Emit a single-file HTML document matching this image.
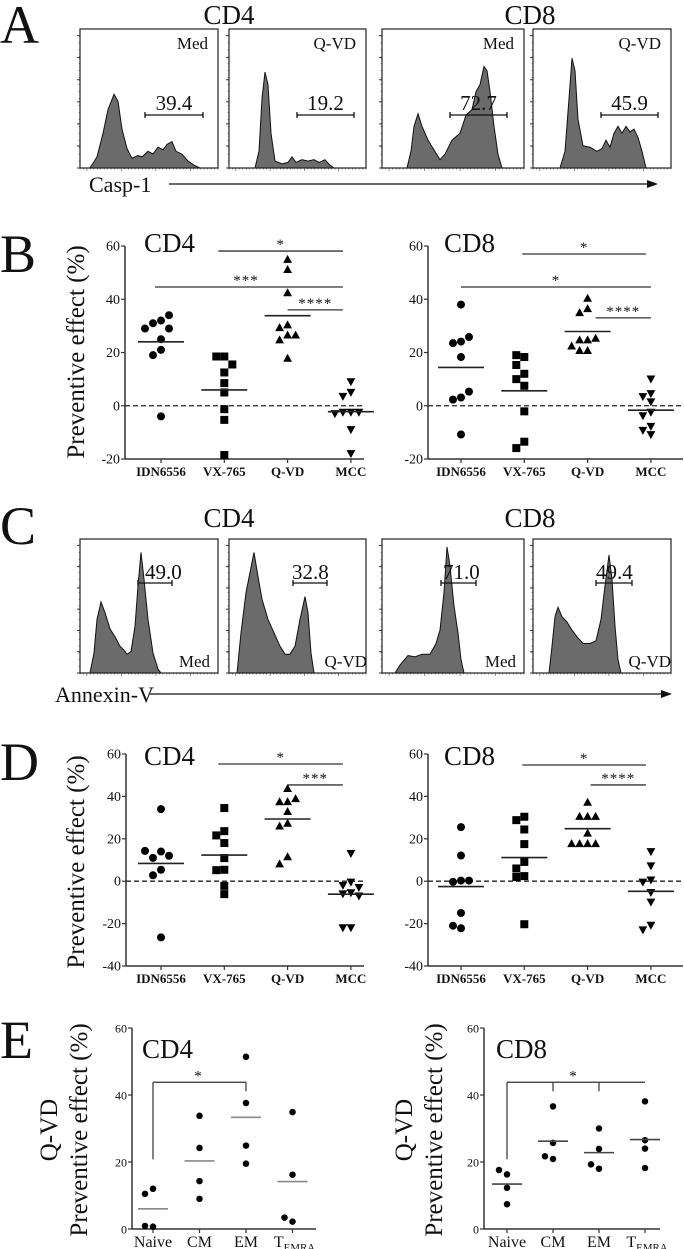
<!DOCTYPE html>
<html><head><meta charset="utf-8">
<style>
html,body{margin:0;padding:0;background:#fff;}
svg{display:block;font-family:"Liberation Serif",serif;}
</style></head>
<body>
<svg id="fig" width="684" height="1249" viewBox="0 0 684 1249" xmlns="http://www.w3.org/2000/svg"></svg>
<script>
// ---------- Data: panel B ----------
const catsBD = ["IDN6556","VX-765","Q-VD","MCC"];
const bCD4_IDN = [32,31,34,29,29,25,21,19,-4];
const bCD4_VX = [18.5,18.5,15.5,12.5,8.5,5,-1.3,-5.3,-18.5];
const bCD4_QVD = [55,51.2,42.5,30.4,29.4,26.6,26.6,24.8,17.9];
const bCD4_MCC = [9,5,3.5,-2.5,-2.5,-2.5,-3,-9,-18];
const bCD8_IDN = [38,24.1,23.5,25.8,18.3,3.1,2.3,5.3,-10.8];
const bCD8_VX = [18.3,19,15.3,12,10,7.5,-2.1,-13.5,-15.9];
const bCD8_QVD = [40.4,36.5,35,24.8,24.8,25.4,22.5,20.8,20.8];
const bCD8_MCC = [10,4.5,3.4,1.4,-2.5,-3.8,-7.8,-9.3,-10.9];
// ---------- Data: panel D ----------
const dCD4_IDN = [34,14,11,12,14.3,5.4,2.8,-26.5];
const dCD4_VX = [34.5,23.6,21.6,18,10.9,5.4,5.2,-2.2,-6.1];
const dCD4_QVD = [43.8,37.6,37.5,39,32.9,27.4,26.1,11.6,8.2];
const dCD4_MCC = [13,-0.5,-2,-3,-5.5,-6,-7,-22,-22];
const dCD8_IDN = [25.5,12.1,0.3,-0.3,0.3,-15,-22.2,-21];
const dCD8_VX = [30.4,28.8,24.4,17.5,9.1,6,2.4,2,-20.3];
const dCD8_QVD = [37.3,30.6,30.6,30.6,22.7,17.8,17.8,17.8,17.8];
const dCD8_MCC = [13.9,7.2,0.5,-0.5,-5.4,-9.9,-20.8,-23];
// ---------- Data: panel E ----------
const catsE = ["Naive","CM","EM","TEMRA"];
const eCD4_Naive = [12,10.5,0.7,0.9];
const eCD4_CM = [33.8,24.2,14.3,9];
const eCD4_EM = [51.4,37.6,24.9,19.5];
const eCD4_TEMRA = [34.9,16.2,2.2,3.4];
const eCD8_Naive = [16.3,17.6,12.3,7.4];
const eCD8_CM = [36.6,25.7,20.9,21.7];
const eCD8_EM = [30,23.9,18,19.3];
const eCD8_TEMRA = [38.1,26.5,24,18.2];
const ticksBD_B = [-20,0,20,40,60];
const ticksBD_D = [-40,-20,0,20,40,60];
const ticksE = [0,20,40,60];

const NS = "http://www.w3.org/2000/svg";
const svg = document.getElementById("fig");
function mk(tag, attrs, parent, text){
  const e = document.createElementNS(NS, tag);
  for (const k in attrs) e.setAttribute(k, attrs[k]);
  if (text !== undefined) e.textContent = text;
  (parent || svg).appendChild(e);
  return e;
}
function txt(x,y,s,size,anchor,parent,extra){
  return mk("text", Object.assign({x:x,y:y,"font-size":size,"text-anchor":anchor||"start",fill:"#111"}, extra||{}), parent, s);
}

[["A",0,43],["B",0,272],["C",0,544],["D",0,780],["E",0,1058]].forEach(([l,x,y])=>{
  const t = txt(x,y,l,54,"start");
  
  
});

// ---------- Histograms (A, C) ----------
const boxesX = [[80,218],[229,366],[382,524],[533,671]];
function histBox(g, x0, x1, yt, yb, pts, label, labelPos, num, gate, numX, numY, numAnchor){
  const h = yb - yt;
  for (let i=0;i<=6;i++){ const y = yb - i*h/6.3; mk("line",{x1:x0-3,y1:y,x2:x0,y2:y,stroke:"#333","stroke-width":1},g); }
  for (let i=1;i<20;i++){ const y = yb - i*h/20; mk("line",{x1:x0-1.5,y1:y,x2:x0,y2:y,stroke:"#666","stroke-width":0.6},g); }
  const w = x1-x0;
  for (let i=0;i<=40;i++){ const x = x0 + i*w/40; mk("line",{x1:x,y1:yb,x2:x,y2:yb+(i%10==2?3:1.5),stroke:"#444","stroke-width":0.6},g); }
  let d = "M"+pts[0][0]+","+yb;
  pts.forEach(p=>{ d += " L"+p[0]+","+(yb - p[1]*h).toFixed(1); });
  d += " L"+pts[pts.length-1][0]+","+yb+" Z";
  const p = mk("path",{d:d,fill:"#6b6b6b",stroke:"#111","stroke-width":1},g);
  
  
  const r = mk("rect",{x:x0,y:yt,width:w,height:h,fill:"none",stroke:"#222","stroke-width":1.2},g);
  
  
  const lt = txt(labelPos[0],labelPos[1],label,17,"end",g);
  
  
  mk("line",{x1:gate[0],y1:gate[2],x2:gate[1],y2:gate[2],stroke:"#111","stroke-width":1.3},g);
  mk("line",{x1:gate[0],y1:gate[2]-3,x2:gate[0],y2:gate[2]+3,stroke:"#111","stroke-width":1.3},g);
  mk("line",{x1:gate[1],y1:gate[2]-3,x2:gate[1],y2:gate[2]+3,stroke:"#111","stroke-width":1.3},g);
  const nt = txt(numX,numY,num,21,numAnchor,g);
  
  
}
const gA = mk("g",{});  
const ytA = 29, ybA = 168;
const hA = [
 [[90,0],[97,0.08],[103,0.25],[108,0.42],[114,0.53],[118,0.48],[122,0.28],[127,0.14],[132,0.07],[138,0.09],[142,0.08],[148,0.12],[153,0.1],[158,0.15],[163,0.13],[167,0.17],[172,0.19],[176,0.12],[182,0.1],[188,0.05],[194,0.02],[200,0]],
 [[255,0],[259,0.12],[262,0.5],[265,0.69],[268,0.6],[271,0.25],[275,0.05],[282,0.03],[288,0.04],[292,0.08],[296,0.04],[302,0.06],[308,0.05],[314,0.06],[319,0.04],[325,0.06],[330,0.02],[334,0]],
 [[407,0],[411,0.12],[414,0.3],[418,0.39],[422,0.3],[428,0.2],[434,0.13],[440,0.06],[445,0.1],[452,0.2],[460,0.25],[466,0.38],[472,0.42],[476,0.55],[480,0.6],[484,0.73],[487,0.7],[490,0.55],[494,0.3],[498,0.1],[502,0]],
 [[560,0],[565,0.12],[569,0.5],[572,0.79],[575,0.7],[578,0.35],[583,0.16],[590,0.15],[597,0.12],[602,0.14],[606,0.2],[610,0.15],[614,0.25],[618,0.3],[622,0.25],[626,0.3],[630,0.26],[634,0.28],[638,0.22],[642,0.12],[646,0]]
];
const labA = ["Med","Q-VD","Med","Q-VD"], numA = ["39.4","19.2","72.7","45.9"];
const gatesA = [[145,203],[297,354],[450,507],[601,658]];
for (let i=0;i<4;i++){
  const g = mk("g",{},gA);  
  histBox(g, boxesX[i][0], boxesX[i][1], ytA, ybA, hA[i], labA[i], [boxesX[i][1]-10, 49], numA[i], [gatesA[i][0],gatesA[i][1],115], (gatesA[i][0]+gatesA[i][1])/2, 110, "middle");
}
let t;
t = txt(229,24,"CD4",27,"middle",gA);  
t = txt(530,24,"CD8",27,"middle",gA);  
t = txt(89,192,"Casp-1",22,"start",gA);  
mk("line",{x1:169,y1:184,x2:650,y2:184,stroke:"#111","stroke-width":1.2},gA);
mk("path",{d:"M658,184 L647,180 L647,188 Z",fill:"#111"},gA);

const gC = mk("g",{});  
const ytC = 539, ybC = 673;
const hC = [
 [[90,0],[94,0.15],[97,0.4],[101,0.53],[105,0.45],[110,0.33],[115,0.27],[120,0.2],[124,0.17],[127,0.14],[131,0.16],[135,0.35],[138,0.65],[141,0.9],[144,0.7],[148,0.4],[153,0.15],[158,0.03],[161,0]],
 [[237,0],[241,0.3],[246,0.6],[250,0.75],[254,0.9],[258,0.72],[262,0.55],[268,0.4],[274,0.3],[280,0.2],[285,0.14],[290,0.14],[295,0.2],[300,0.4],[305,0.57],[308,0.45],[311,0.15],[314,0]],
 [[395,0],[400,0.06],[408,0.13],[415,0.12],[422,0.14],[430,0.14],[436,0.22],[440,0.32],[444,0.6],[447,0.94],[450,0.8],[454,0.5],[458,0.3],[461,0.1],[464,0]],
 [[549,0],[552,0.2],[555,0.42],[558,0.49],[562,0.42],[567,0.38],[572,0.32],[577,0.27],[583,0.22],[590,0.22],[596,0.24],[601,0.4],[605,0.65],[609,0.88],[612,0.7],[615,0.35],[618,0.1],[621,0]]
];
const labC = ["Med","Q-VD","Med","Q-VD"], numC = ["49.0","32.8","71.0","49.4"];
const gatesC = [[138,172],[293,327],[441,476],[596,632]];
const numCx = [145,292,443,596];
const labCx = [210,367,516,671];
for (let i=0;i<4;i++){
  const g = mk("g",{},gC);  
  histBox(g, boxesX[i][0], boxesX[i][1], ytC, ybC, hC[i], labC[i], [labCx[i], 667], numC[i], [gatesC[i][0],gatesC[i][1],583], numCx[i], 579, "start");
}
t = txt(229,527,"CD4",27,"middle",gC);  
t = txt(530,527,"CD8",27,"middle",gC);  
t = txt(55,702,"Annexin-V",22,"start",gC);  
mk("line",{x1:150,y1:694,x2:664,y2:694,stroke:"#111","stroke-width":1.2},gC);
mk("path",{d:"M672,694 L661,690 L661,698 Z",fill:"#111"},gC);

// ---------- Scatter charts ----------
function marker(g, shape, x, y, s){
  let e;
  if (shape==="circle") e = mk("circle",{cx:x,cy:y,r:s*0.5,fill:"#000"},g);
  else if (shape==="square") e = mk("rect",{x:x-s*0.5,y:y-s*0.5,width:s,height:s,fill:"#000"},g);
  else if (shape==="tri") e = mk("path",{d:`M${x},${y-s*0.55} L${x+s*0.55},${y+s*0.45} L${x-s*0.55},${y+s*0.45} Z`,fill:"#000"},g);
  else e = mk("path",{d:`M${x},${y+s*0.55} L${x+s*0.55},${y-s*0.45} L${x-s*0.55},${y-s*0.45} Z`,fill:"#000"},g);
  
  
}
function swarmOffsets(vals, yFn, size, step){
  const placed = [], offs = [];
  vals.forEach((v)=>{
    const y = yFn(v);
    let done = false;
    for (const c of [0,-1,1,-2,2,-3,3]){
      const x = c*step;
      if (!placed.some(p=>Math.abs(p.y-y)<size && Math.abs(p.x-x)<size)){ placed.push({x,y}); offs.push(x); done = true; break; }
    }
    if (!done) offs.push(0);
  });
  return offs;
}
function scatter(o){
  const g = mk("g",{});  
  const yFn = v => o.yBot - (v - o.vmin)/(o.vmax - o.vmin)*(o.yBot - o.yTop);
  const xFn = i => o.firstCat + i*o.catStep;
  const ya = mk("line",{x1:o.ax,y1:o.yTop,x2:o.ax,y2:o.yBot,stroke:"#333","stroke-width":1.5},g);
   
  const xa = mk("line",{x1:o.ax,y1:o.yBot,x2:o.xEnd,y2:o.yBot,stroke:"#333","stroke-width":1.5},g);
   
  o.ticks.forEach(v=>{
    const y = yFn(v);
    mk("line",{x1:o.ax-4,y1:y,x2:o.ax,y2:y,stroke:"#333","stroke-width":1.2},g);
    const tl = txt(o.ax-5,y+4.5,String(v),o.tickSize,"end",g);
     
  });
  o.cats.forEach((c,i)=>{
    const x = xFn(i);
    mk("line",{x1:x,y1:o.yBot,x2:x,y2:o.yBot+4,stroke:"#333","stroke-width":1.2},g);
    let cl;
    if (c==="TEMRA"){
      cl = txt(x+2,o.yBot+18,"",o.catSize,"middle",g);
      mk("tspan",{},cl,"T");
      mk("tspan",{"font-size":o.catSize*0.68,dy:4},cl,"EMRA");
    } else {
      cl = txt(x,o.yBot+(o.catSize>14?18:17),c,o.catSize,"middle",g,o.catBold?{"font-weight":"bold"}:{});
    }
     
  });
  if (o.zeroLine){
    const zl = mk("line",{x1:o.ax,y1:yFn(0),x2:o.xEnd,y2:yFn(0),stroke:"#222","stroke-width":1.3,"stroke-dasharray":"5,3"},g);
     
  }
  o.series.forEach((vals,i)=>{
    const cx = xFn(i);
    const offs = swarmOffsets(vals, yFn, o.msize, o.jstep);
    vals.forEach((v,j)=> marker(g, o.shapes[i], cx+offs[j], yFn(v), o.msize));
    const mean = vals.reduce((a,b)=>a+b,0)/vals.length;
    const ml = mk("line",{x1:cx-o.meanW,y1:yFn(mean),x2:cx+o.meanW,y2:yFn(mean),stroke:o.meanColor,"stroke-width":1.6},g);
     
  });
  (o.sig||[]).forEach(s=>{
    const y = yFn(s.v);
    const x1 = xFn(s.a)+s.da, x2 = xFn(s.b)+s.db;
    const sl = mk("line",{x1:x1,y1:y,x2:x2,y2:y,stroke:"#333","stroke-width":1.3},g);
     
    const sx = s.tx!==undefined ? s.tx : (x1+x2)/2;
    const st = txt(sx,y-2,s.label,15,"middle",g,{"letter-spacing":"1"});
     
  });
  (o.brackets||[]).forEach(b=>{
    const y = yFn(b.v);
    const x1 = xFn(b.a), x2 = xFn(b.b);
    const bl = mk("line",{x1:x1,y1:y,x2:x2,y2:y,stroke:"#333","stroke-width":1.2},g);
     
    mk("line",{x1:x1,y1:y,x2:x1,y2:yFn(b.startV),stroke:"#333","stroke-width":1.2},g);
    b.drops.forEach(i=>{ mk("line",{x1:xFn(i),y1:y,x2:xFn(i),y2:y+9,stroke:"#333","stroke-width":1.2},g); });
    const st = txt(b.tx,y-2,"*",15,"middle",g);
     
  });
  if (o.title){
    const tt = txt(o.title[1],o.title[2],o.title[0],27,"start",g);
     
  }
  (o.ytitles||[]).forEach(yt=>{
    const e = txt(yt[1],yt[2],yt[0],yt[3],"middle",g,{transform:`rotate(-90 ${yt[1]} ${yt[2]})`});
     
  });
  return g;
}
const shapesBD = ["circle","square","tri","itri"];
const baseB = {vmin:-20,vmax:60,yTop:246,yBot:459,ticks:ticksBD_B,cats:catsBD,catStep:63.3,tickSize:14,catSize:13,catBold:true,zeroLine:true,shapes:shapesBD,msize:8,jstep:8,meanW:23,meanColor:"#222"};
scatter(Object.assign({},baseB,{name:"panel-b-cd4-chart",ax:125,firstCat:161,xEnd:364,
  series:[bCD4_IDN,bCD4_VX,bCD4_QVD,bCD4_MCC],title:["CD4",144,252],
  ytitles:[["Preventive effect (%)",84,352,25]],
  sig:[{a:1,b:3,da:-6,db:-8,v:58.1,label:"*"},{a:0,b:3,da:-6,db:-8,v:44.6,label:"***",tx:246},{a:2,b:3,da:0,db:-8,v:36,label:"****"}]}));
scatter(Object.assign({},baseB,{name:"panel-b-cd8-chart",ax:428,firstCat:461,xEnd:683,
  series:[bCD8_IDN,bCD8_VX,bCD8_QVD,bCD8_MCC],title:["CD8",444,252],
  sig:[{a:1,b:3,da:-2,db:-5,v:57,label:"*"},{a:0,b:3,da:0,db:0,v:44.6,label:"*"},{a:2,b:3,da:8,db:0,v:33,label:"****"}]}));
const baseD = Object.assign({},baseB,{vmin:-40,vmax:60,yTop:754,yBot:966,ticks:ticksBD_D});
scatter(Object.assign({},baseD,{name:"panel-d-cd4-chart",ax:126,firstCat:161,xEnd:364,
  series:[dCD4_IDN,dCD4_VX,dCD4_QVD,dCD4_MCC],title:["CD4",144,765],
  ytitles:[["Preventive effect (%)",84,862,25]],
  sig:[{a:1,b:3,da:-6,db:-8,v:55.3,label:"*"},{a:2,b:3,da:0,db:-8,v:45.4,label:"***"}]}));
scatter(Object.assign({},baseD,{name:"panel-d-cd8-chart",ax:428,firstCat:461,xEnd:683,
  series:[dCD8_IDN,dCD8_VX,dCD8_QVD,dCD8_MCC],title:["CD8",444,765],
  sig:[{a:1,b:3,da:-2,db:-5,v:54.8,label:"*"},{a:2,b:3,da:3,db:-5,v:45.4,label:"****"}]}));
const baseE = {vmin:0,vmax:60,yTop:1028,yBot:1229,ticks:ticksE,cats:catsE,tickSize:12,catSize:16,catBold:false,zeroLine:false,shapes:["circle","circle","circle","circle"],msize:6.5,jstep:8,meanW:15};
scatter(Object.assign({},baseE,{name:"panel-e-cd4-chart",ax:132,firstCat:153,catStep:46.5,xEnd:316,meanColor:"#888",
  series:[eCD4_Naive,eCD4_CM,eCD4_EM,eCD4_TEMRA],title:["CD4",142,1058],
  ytitles:[["Q-VD",57,1130,25],["Preventive effect (%)",87,1130,25]],
  brackets:[{a:0,b:2,v:43.8,startV:20.8,drops:[2],tx:198}]}));
scatter(Object.assign({},baseE,{name:"panel-e-cd8-chart",ax:484,firstCat:507,catStep:46,xEnd:660,meanColor:"#444",
  series:[eCD8_Naive,eCD8_CM,eCD8_EM,eCD8_TEMRA],title:["CD8",496,1058],
  ytitles:[["Q-VD",412,1130,25],["Preventive effect (%)",442,1130,25]],
  brackets:[{a:0,b:3,v:43.8,startV:20.8,drops:[1,2],tx:573}]}));
</script>
</body></html>
